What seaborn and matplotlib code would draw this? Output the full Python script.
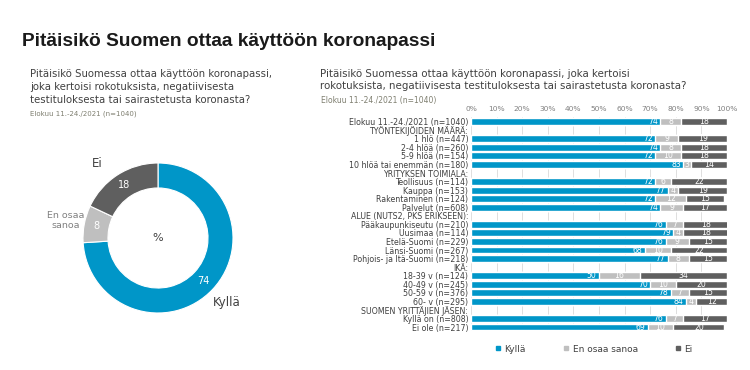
import numpy as np
import pandas as pd
import matplotlib
matplotlib.use("Agg")
import matplotlib.pyplot as plt
import seaborn as sns
from matplotlib.lines import Line2D

# --- data ---
title = "Pitäisikö Suomen ottaa käyttöön koronapassi"
question_left = ("Pitäisikö Suomessa ottaa käyttöön koronapassi,\n"
                 "joka kertoisi rokotuksista, negatiivisesta\n"
                 "testituloksesta tai sairastetusta koronasta?")
question_right = ("Pitäisikö Suomessa ottaa käyttöön koronapassi, joka kertoisi\n"
                  "rokotuksista, negatiivisesta testituloksesta tai sairastetusta koronasta?")
period = "Elokuu 11.-24./2021 (n=1040)"

answers = ["Kyllä", "En osaa sanoa", "Ei"]
donut_labels = ["Kyllä", "En osaa\nsanoa", "Ei"]
total_values = [74, 8, 18]

groups = [
    "Elokuu 11.-24./2021 (n=1040)",
    "TYÖNTEKIJÖIDEN MÄÄRÄ:",
    "1 hlö (n=447)",
    "2-4 hlöä (n=260)",
    "5-9 hlöä (n=154)",
    "10 hlöä tai enemmän (n=180)",
    "YRITYKSEN TOIMIALA:",
    "Teollisuus (n=114)",
    "Kauppa (n=153)",
    "Rakentaminen (n=124)",
    "Palvelut (n=608)",
    "ALUE (NUTS2, PKS ERIKSEEN):",
    "Pääkaupunkiseutu (n=210)",
    "Uusimaa (n=114)",
    "Etelä-Suomi (n=229)",
    "Länsi-Suomi (n=267)",
    "Pohjois- ja Itä-Suomi (n=218)",
    "IKÄ:",
    "18-39 v (n=124)",
    "40-49 v (n=245)",
    "50-59 v (n=376)",
    "60- v (n=295)",
    "SUOMEN YRITTÄJIEN JÄSEN:",
    "Kyllä on (n=808)",
    "Ei ole (n=217)",
]
kylla = [74, None, 72, 74, 72, 83, None, 72, 77, 72, 74, None,
         76, 79, 76, 68, 77, None, 50, 70, 78, 84, None, 76, 69]
eos = [8, None, 9, 8, 10, 3, None, 6, 4, 12, 9, None,
       7, 4, 9, 10, 8, None, 16, 10, 7, 4, None, 7, 10]
ei = [18, None, 19, 18, 18, 14, None, 22, 19, 15, 17, None,
      18, 18, 15, 22, 15, None, 34, 20, 15, 12, None, 17, 20]

colors = ["#0096c8", "#bfbfbf", "#5f5f5f"]
text_dark = "#404040"
text_grey = "#808080"
period_color = "#7f7f70"

W, H = 750, 370


def fx(x):
    return x / W


def fy(y):
    return 1 - y / H


sns.set_theme(style="white")
plt.rcParams["font.family"] = ["DejaVu Sans"]

fig = plt.figure(figsize=(W / 100, H / 100), dpi=100)
fig.patch.set_facecolor("white")

# titles
fig.text(fx(22), fy(42), title, fontsize=13.8, fontweight="bold",
         family=["Liberation Sans", "DejaVu Sans"], color="#1a1a1a", va="center")
fig.text(fx(30), fy(69), question_left, fontsize=7.3, color=text_dark,
         va="top", linespacing=1.35)
fig.text(fx(30), fy(114), period, fontsize=5, color=period_color, va="center")
fig.text(fx(320), fy(69), question_right, fontsize=7.4, color=text_dark,
         va="top", linespacing=1.22)
fig.text(fx(321), fy(101), period, fontsize=5.5, color=period_color, va="center")

# --- donut ---
cx, cy, r = 158, 238, 75
ax_d = fig.add_axes([fx(cx - r), fy(cy + r), 2 * r / W, 2 * r / H])
wedges, texts, autotexts = ax_d.pie(
    total_values, labels=donut_labels, colors=colors, startangle=90,
    counterclock=False, radius=1, labeldistance=1.25, pctdistance=0.835,
    autopct=lambda p: f"{p:.0f}",
    wedgeprops=dict(width=0.333, edgecolor="white", linewidth=0.8),
    textprops=dict(fontsize=8.5, color=text_dark))
for t in texts:
    t.set_ha("center")
    t.set_va("center")
texts[1].set_fontsize(6.8)
texts[1].set_color(text_grey)
texts[2].set_position((-0.81, 0.99))
for t in autotexts:
    t.set_color("white")
    t.set_fontsize(7)
ax_d.text(0, 0, "%", ha="center", va="center", fontsize=8, color=text_dark)
ax_d.set_xlim(-1, 1)
ax_d.set_ylim(-1, 1)

# --- stacked bars ---
df = pd.DataFrame({"group": groups, "kylla": kylla, "eos": eos, "ei": ei})
df = df.dropna().copy()
df["c1"] = df["kylla"]
df["c2"] = df["kylla"] + df["eos"]
df["c3"] = df["kylla"] + df["eos"] + df["ei"]

top, bottom = 117.4, 331.3
ax = fig.add_axes([fx(471), fy(bottom), (727 - 471) / W, (bottom - top) / H])
for col, c in zip(["c3", "c2", "c1"], colors[::-1]):
    sns.barplot(data=df, x=col, y="group", order=groups, color=c,
                saturation=1, width=0.8, errorbar=None, ax=ax, zorder=2)

pos = {g: i for i, g in enumerate(groups)}
fs = 5.6
for _, row in df.iterrows():
    yy = pos[row["group"]]
    ax.text(row["c1"] - 1, yy, f"{row['kylla']:.0f}", ha="right", va="center",
            fontsize=fs, color="white", zorder=3)
    ax.text(row["c1"] + row["eos"] / 2, yy, f"{row['eos']:.0f}", ha="center",
            va="center", fontsize=fs, color="white", zorder=3)
    ax.text(row["c2"] + row["ei"] / 2, yy, f"{row['ei']:.0f}", ha="center",
            va="center", fontsize=fs, color="white", zorder=3)

ax.set_xlim(0, 100)
ax.set_ylim(len(groups) - 0.5, -0.5)
ax.set_xlabel("")
ax.set_ylabel("")
ax.xaxis.tick_top()
ax.set_xticks(range(0, 101, 10))
ax.set_xticklabels([f"{v}%" for v in range(0, 101, 10)])
ax.tick_params(axis="x", length=0, pad=4, labelsize=5.4, labelcolor=text_grey)
ax.tick_params(axis="y", length=0, pad=2, labelsize=5.7, labelcolor=text_dark)
ax.grid(axis="x", color="#d9d9d9", linewidth=0.6, zorder=0)
ax.grid(axis="y", visible=False)
ax.set_axisbelow(True)
for s in ax.spines.values():
    s.set_visible(False)

# legend
handles = [Line2D([], [], marker="s", linestyle="", color=c, markersize=3.5)
           for c in colors]
fig.legend(handles, answers, loc="center", bbox_to_anchor=(fx(594), fy(349)),
           ncol=3, frameon=False, fontsize=6.5, handlelength=0.6,
           handletextpad=0.4, columnspacing=4.2, labelcolor=text_dark)

fig.savefig("out.png", dpi=100)
